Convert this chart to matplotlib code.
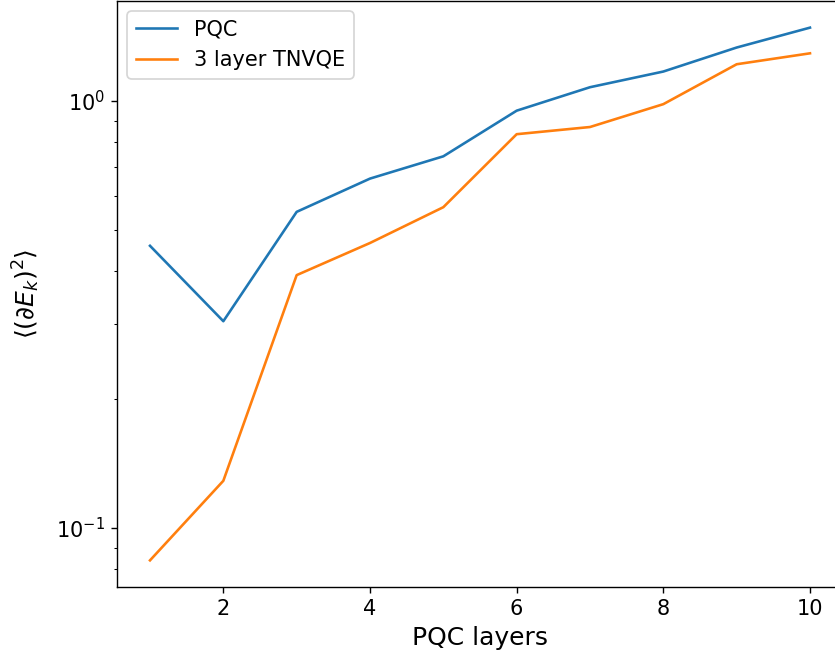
import numpy as np
import matplotlib
matplotlib.use("Agg")
import matplotlib.pyplot as plt

# number of PQC layers
layers = [1, 2, 3, 4, 5, 6, 7, 8, 9, 10]

# mean squared gradient
pqc_grad = [0.458, 0.305, 0.550, 0.658, 0.742, 0.949, 1.077, 1.172, 1.334, 1.485]
tnvqe_grad = [0.084, 0.129, 0.391, 0.465, 0.564, 0.836, 0.869, 0.983, 1.219, 1.293]

fig = plt.figure(figsize=(6.68, 5.288), dpi=125)
ax = fig.add_axes([117 / 835, 74 / 661, 726 / 835, 586 / 661])

ax.plot(layers, pqc_grad, label='PQC')
ax.plot(layers, tnvqe_grad, label='3 layer TNVQE')
ax.set_yscale('log')

ax.set_xlabel('PQC layers', fontsize='x-large')
ax.set_ylabel(r'$\langle (\partial E_k)^2 \rangle$', fontsize='x-large', labelpad=8)
ax.tick_params(labelsize=12)
ax.legend(loc='upper left', fontsize='large')

fig.savefig('out.png', dpi=125)
